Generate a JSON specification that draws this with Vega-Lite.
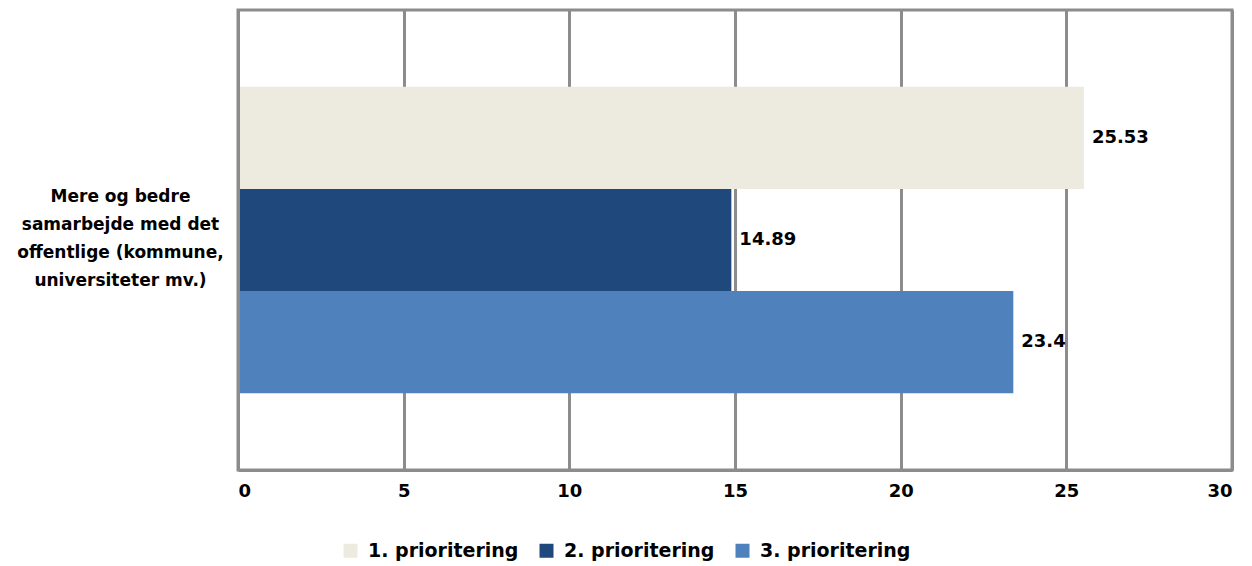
{
  "$schema": "https://vega.github.io/schema/vega-lite/v6.json",
  "width": 994,
  "height": 460,
  "autosize": "none",
  "padding": {"left": 238, "top": 10, "right": 20, "bottom": 96},
  "background": "white",
  "config": {
    "font": "DejaVu Sans",
    "view": {"stroke": "#8c8c8c", "strokeWidth": 3}
  },
  "data": {
    "values": [
      {"kategori": "Mere og bedre|samarbejde med det|offentlige (kommune,|universiteter mv.)", "serie": "1. prioritering", "vaerdi": 25.53},
      {"kategori": "Mere og bedre|samarbejde med det|offentlige (kommune,|universiteter mv.)", "serie": "2. prioritering", "vaerdi": 14.89},
      {"kategori": "Mere og bedre|samarbejde med det|offentlige (kommune,|universiteter mv.)", "serie": "3. prioritering", "vaerdi": 23.4}
    ]
  },
  "encoding": {
    "y": {
      "field": "kategori",
      "type": "nominal",
      "scale": {"paddingInner": 0, "paddingOuter": 0.25},
      "axis": {
        "title": null,
        "ticks": false,
        "domainColor": "#8c8c8c",
        "domainWidth": 3,
        "labelExpr": "split(datum.label, '|')",
        "labelAlign": "center",
        "labelBaseline": "middle",
        "labelPadding": 118,
        "labelFontSize": 17,
        "labelFontWeight": "bold",
        "labelLineHeight": 28,
        "labelColor": "#000000",
        "labelLimit": 0,
        "labelOffset": -43,
        "zindex": 1
      }
    },
    "yOffset": {
      "field": "serie",
      "type": "nominal",
      "sort": ["1. prioritering", "2. prioritering", "3. prioritering"],
      "scale": {"paddingInner": 0, "paddingOuter": 0}
    },
    "x": {
      "field": "vaerdi",
      "type": "quantitative",
      "scale": {"domain": [0, 30], "nice": false},
      "axis": {
        "title": null,
        "values": [0, 5, 10, 15, 20, 25, 30],
        "grid": true,
        "gridColor": "#8c8c8c",
        "gridWidth": 3,
        "gridOpacity": 1,
        "domainColor": "#8c8c8c",
        "domainWidth": 3,
        "ticks": false,
        "labelPadding": 12,
        "labelFontSize": 18,
        "labelFontWeight": "bold",
        "labelColor": "#000000"
      }
    }
  },
  "layer": [
    {
      "mark": {"type": "bar"},
      "encoding": {
        "color": {
          "field": "serie",
          "type": "nominal",
          "sort": ["1. prioritering", "2. prioritering", "3. prioritering"],
          "scale": {
            "domain": ["1. prioritering", "2. prioritering", "3. prioritering"],
            "range": ["#EDEBE0", "#1F497D", "#4F81BD"]
          },
          "legend": {
            "title": null,
            "orient": "none",
            "direction": "horizontal",
            "legendX": 103,
            "legendY": 531,
            "symbolType": "square",
            "symbolSize": 196,
            "symbolStrokeWidth": 0,
            "symbolOpacity": 1,
            "labelFontSize": 19,
            "labelFontWeight": "bold",
            "labelColor": "#000000",
            "labelLimit": 0,
            "columnPadding": 18,
            "labelOffset": 8
          }
        }
      }
    },
    {
      "mark": {"type": "text", "align": "left", "baseline": "middle", "dx": 8, "fontSize": 18, "fontWeight": "bold", "color": "#000000"},
      "encoding": {
        "text": {"field": "vaerdi", "type": "quantitative"}
      }
    }
  ]
}
